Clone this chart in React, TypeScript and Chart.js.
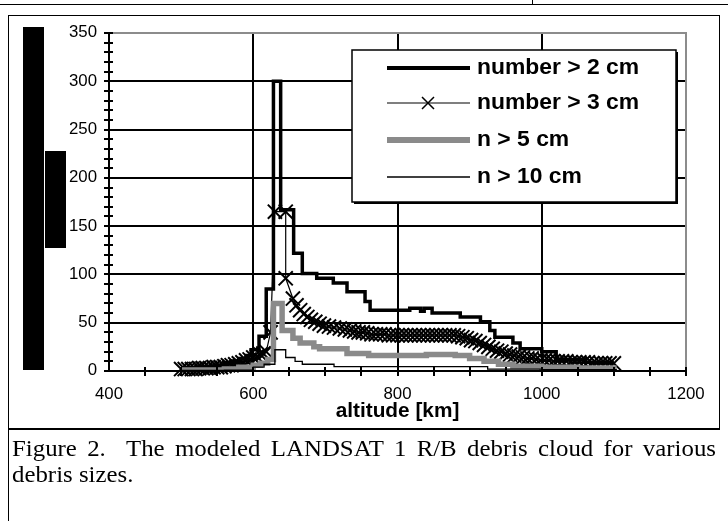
import React, { useEffect, useRef } from "react";
import { Chart, registerables } from "chart.js";

Chart.register(...registerables);

// ---- data ----
const xTickLabels = [400, 600, 800, 1000, 1200];
const yTickLabels = [0, 50, 100, 150, 200, 250, 300, 350];
const xMinorStep = 50;
const yMinorStep = 10;
const seriesNames = ["number > 2 cm", "number > 3 cm", "n > 5 cm", "n > 10 cm"];
const xTitle = "altitude [km]";
const captionLine1 = "Figure 2.\u00a0 The modeled LANDSAT 1 R/B debris cloud for various";
const captionLine2 = "debris sizes.";

// [altitude km, count] ; stepped series: value holds from altitude to the next altitude
const series2cm = [
  [500, 3], [520, 4], [540, 5], [550, 6], [560, 8], [570, 10], [580, 13], [590, 16],
  [597, 22], [608, 36], [618, 85], [628, 300], [638, 167], [656, 122], [668, 101],
  [688, 96], [711, 91], [730, 82], [755, 72], [762, 63], [817, 65], [832, 62],
  [837, 65], [848, 60], [887, 56], [915, 51], [928, 42], [935, 35], [960, 29],
  [970, 23], [1000, 20], [1020, 12], [1060, 9], [1100, 9],
];

const series3cm = [
  [500, 2], [505, 2], [510, 2], [515, 2], [520, 2], [525, 3], [530, 3], [535, 3],
  [540, 3], [545, 4], [550, 4], [555, 4], [560, 5], [565, 6], [570, 6], [575, 7],
  [580, 8], [585, 9], [590, 11], [595, 12], [600, 14], [605, 15], [610, 17],
  [614, 18], [618, 20], [624, 40], [630, 165], [645, 165], [645, 96],
  [655, 75], [660, 68], [665, 63], [670, 59], [675, 56], [680, 53], [686, 51],
  [692, 49], [698, 47], [705, 46], [712, 45], [720, 44], [727, 43], [734, 42],
  [740, 41], [746, 40], [752, 40], [758, 39], [764, 38], [770, 38], [776, 38],
  [782, 38], [788, 37], [794, 37], [800, 37], [806, 37], [812, 37], [818, 37],
  [824, 37], [830, 37], [836, 37], [842, 37], [848, 37], [854, 37], [860, 37],
  [866, 37], [872, 37], [878, 37], [884, 36], [890, 35], [896, 34], [902, 32],
  [908, 31], [914, 29], [920, 27], [926, 25], [932, 23], [938, 21], [944, 20],
  [950, 18], [956, 17], [962, 16], [968, 15], [974, 14], [980, 13], [986, 13],
  [992, 12], [998, 11], [1004, 11], [1010, 11], [1016, 10], [1022, 10], [1028, 10],
  [1034, 10], [1040, 9], [1046, 9], [1052, 9], [1058, 9], [1064, 9], [1070, 8],
  [1076, 8], [1082, 8], [1088, 8], [1094, 8], [1100, 8],
];

const series5cm = [
  [500, 1], [540, 1], [560, 2], [580, 4], [600, 6], [610, 8], [620, 12], [628, 70],
  [640, 42], [655, 34], [665, 29], [684, 25], [692, 23], [730, 18], [760, 16],
  [800, 16], [840, 17], [880, 16], [900, 13], [920, 10], [940, 7], [960, 5],
  [1000, 4], [1050, 3], [1100, 2],
];

const series10cm = [
  [500, 0.5], [560, 1], [600, 4], [615, 7], [630, 22], [645, 14], [658, 10],
  [668, 7], [712, 4.5], [925, 2], [1000, 1.5], [1100, 1],
];

// ---- drawing helpers ----
const SANS = '"Liberation Sans", Arial, sans-serif';

function sText(ctx: CanvasRenderingContext2D, text: string, x: number, y: number, align: CanvasTextAlign, font: string, stretch: number) {
  ctx.save();
  ctx.translate(x, y);
  ctx.scale(stretch, 1);
  ctx.font = font;
  ctx.textAlign = align;
  ctx.textBaseline = "middle";
  ctx.fillStyle = "#000";
  ctx.fillText(text, 0, 0);
  ctx.restore();
}

const framePlugin = {
  id: "frameGrid",
  beforeDatasetsDraw(chart: any) {
    const { ctx, chartArea: a, scales } = chart;
    const x = scales.x, y = scales.y;
    ctx.save();
    ctx.lineWidth = 2;
    ctx.strokeStyle = "#000";
    ctx.beginPath();
    yTickLabels.slice(1, -1).forEach((v) => {
      const p = Math.round(y.getPixelForValue(v));
      ctx.moveTo(a.left, p);
      ctx.lineTo(a.right, p);
    });
    xTickLabels.slice(1, -1).forEach((v) => {
      const p = Math.round(x.getPixelForValue(v));
      ctx.moveTo(p, a.top);
      ctx.lineTo(p, a.bottom);
    });
    ctx.stroke();
    ctx.strokeStyle = "#8c8c8c";
    ctx.beginPath();
    ctx.moveTo(a.left, a.top);
    ctx.lineTo(a.right, a.top);
    ctx.lineTo(a.right, a.bottom);
    ctx.stroke();
    ctx.restore();
  },
  afterDatasetsDraw(chart: any) {
    const { ctx, chartArea: a, scales } = chart;
    const x = scales.x, y = scales.y;
    ctx.save();
    ctx.lineWidth = 2;
    ctx.strokeStyle = "#000";
    ctx.beginPath();
    ctx.moveTo(a.left, a.top);
    ctx.lineTo(a.left, a.bottom);
    ctx.lineTo(a.right, a.bottom);
    for (let v = y.min; v <= y.max; v += yMinorStep) {
      const p = Math.round(y.getPixelForValue(v));
      ctx.moveTo(a.left - 5, p);
      ctx.lineTo(a.left + 4, p);
    }
    for (let v = x.min + xMinorStep; v <= x.max; v += xMinorStep) {
      const p = Math.round(x.getPixelForValue(v));
      ctx.moveTo(p, a.bottom - 4);
      ctx.lineTo(p, a.bottom + 5);
    }
    ctx.stroke();
    ctx.restore();

    yTickLabels.forEach((v) =>
      sText(ctx, String(v), a.left - 12, y.getPixelForValue(v), "right", `16px ${SANS}`, 1.05)
    );
    xTickLabels.forEach((v) =>
      sText(ctx, String(v), x.getPixelForValue(v), a.bottom + 24, "center", `16px ${SANS}`, 1.05)
    );
    sText(ctx, xTitle, (a.left + a.right) / 2, a.bottom + 40, "center", `bold 20px ${SANS}`, 1.04);
  },
};

const legendPlugin = {
  id: "boxLegend",
  afterDraw(chart: any) {
    const { ctx } = chart;
    const bx = 352, by = 50, bw = 324, bh = 152;
    const rowY = [68, 103, 140, 177];
    ctx.save();
    ctx.fillStyle = "#000";
    ctx.fillRect(bx + 2, by + 2, bw, bh);
    ctx.fillStyle = "#fff";
    ctx.fillRect(bx, by, bw, bh);
    ctx.lineWidth = 1.5;
    ctx.strokeStyle = "#000";
    ctx.strokeRect(bx, by, bw, bh);
    chart.data.datasets.forEach((ds: any, i: number) => {
      const yy = rowY[i];
      ctx.strokeStyle = ds.borderColor;
      ctx.lineWidth = i === 0 ? 4 : i === 2 ? 6 : ds.borderWidth;
      ctx.beginPath();
      ctx.moveTo(387, yy);
      ctx.lineTo(470, yy);
      ctx.stroke();
      if (ds.pointStyle === "crossRot") {
        const cx = 428, h = 6;
        ctx.lineWidth = 1.5;
        ctx.beginPath();
        ctx.moveTo(cx - h, yy - h);
        ctx.lineTo(cx + h, yy + h);
        ctx.moveTo(cx + h, yy - h);
        ctx.lineTo(cx - h, yy + h);
        ctx.stroke();
      }
      sText(ctx, seriesNames[i], 477, yy, "left", `bold 22px ${SANS}`, 1.04);
    });
    ctx.restore();
  },
};

const toPts = (s: number[][]) => s.map(([x, y]) => ({ x, y }));

export default function App() {
  const ref = useRef<HTMLCanvasElement>(null);

  useEffect(() => {
    const canvas = ref.current;
    if (!canvas) return;
    const chart = new Chart(canvas, {
      type: "line",
      data: {
        datasets: [
          {
            label: seriesNames[0],
            data: toPts(series2cm),
            stepped: "before",
            borderColor: "#000",
            borderWidth: 3.5,
            pointRadius: 0,
            order: 3,
          },
          {
            label: seriesNames[1],
            data: toPts(series3cm),
            borderColor: "#000",
            borderWidth: 1.2,
            pointStyle: "crossRot",
            pointRadius: 10,
            pointBorderWidth: 2,
            pointBorderColor: "#000",
            pointBackgroundColor: "rgba(0,0,0,0)",
            clip: false,
            order: 2,
          },
          {
            label: seriesNames[2],
            data: toPts(series5cm),
            stepped: "before",
            borderColor: "#8a8a8a",
            borderWidth: 5.5,
            pointRadius: 0,
            order: 1,
          },
          {
            label: seriesNames[3],
            data: toPts(series10cm),
            stepped: "before",
            borderColor: "#000",
            borderWidth: 1.3,
            pointRadius: 0,
            order: 0,
          },
        ],
      } as any,
      options: {
        responsive: false,
        animation: false,
        devicePixelRatio: 1,
        events: [],
        layout: { padding: { left: 0, top: 33, right: 42, bottom: 0 } },
        plugins: {
          legend: { display: false },
          tooltip: { enabled: false },
          title: { display: false },
        },
        scales: {
          x: {
            type: "linear",
            min: 400,
            max: 1200,
            ticks: { display: false, stepSize: 200 },
            grid: { display: false },
            border: { display: false },
            afterFit: (s: any) => {
              s.height = 57;
            },
          },
          y: {
            type: "linear",
            min: 0,
            max: 350,
            ticks: { display: false, stepSize: 50 },
            grid: { display: false },
            border: { display: false },
            afterFit: (s: any) => {
              s.width = 109;
            },
          },
        },
      } as any,
      plugins: [framePlugin, legendPlugin],
    });
    return () => chart.destroy();
  }, []);

  const line = (left: number, top: number, width: number, height: number) => (
    <div style={{ position: "absolute", left, top, width, height, background: "#000" }} />
  );

  const capStretch = 1.08;

  return (
    <div
      style={{
        position: "absolute",
        left: 0,
        top: 0,
        width: 728,
        height: 521,
        background: "#fff",
        overflow: "hidden",
      }}
    >
      <canvas ref={ref} width={728} height={428} style={{ position: "absolute", left: 0, top: 0 }} />
      {line(0, 4, 728, 1)}
      {line(532, 0, 1, 5)}
      {line(8, 15, 712, 1)}
      {line(8, 15, 1, 506)}
      {line(719, 15, 1, 414)}
      {line(8, 428, 712, 2)}
      {line(23, 27, 21, 343)}
      {line(45, 151, 21, 97)}
      <div
        style={{
          position: "absolute",
          left: 12,
          top: 436,
          width: 704 / capStretch,
          fontFamily: '"Liberation Serif", "Times New Roman", serif',
          fontSize: 23,
          lineHeight: "26px",
          color: "#000",
          transform: `scaleX(${capStretch})`,
          transformOrigin: "left top",
        }}
      >
        <div style={{ textAlign: "justify", textAlignLast: "justify" } as any}>{captionLine1}</div>
        <div>{captionLine2}</div>
      </div>
    </div>
  );
}
